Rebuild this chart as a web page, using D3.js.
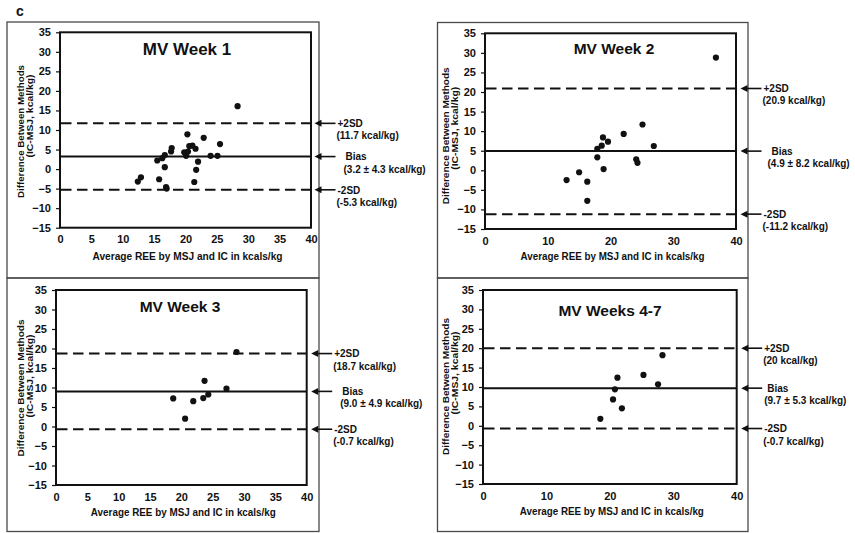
<!DOCTYPE html>
<html><head><meta charset="utf-8">
<script src="https://cdn.jsdelivr.net/npm/d3@7"></script>
<style>
html,body{margin:0;padding:0;background:#fff;}
svg{display:block;font-family:"Liberation Sans",Arial,sans-serif;font-weight:bold;}
</style></head>
<body><svg id="c" width="855" height="533"></svg>
<script>
// ---- data ----
const panelTitles = ["MV Week 1", "MV Week 2", "MV Week 3", "MV Weeks 4-7"];
const xTicks1 = [0,5,10,15,20,25,30,35,40];
const xTicks2 = [0,10,20,30,40];
const yTicks = [-15,-10,-5,0,5,10,15,20,25,30,35];

const wk1X = [12.4,12.9,15.5,15.8,16.3,16.7,16.7,16.9,17.0,17.7,17.8,19.8,20.1,20.3,20.4,20.6,21.1,21.6,22.0,21.7,21.4,22.9,24.0,25.1,25.5,28.3];
const wk1Y = [-3.2,-2.1,2.2,-2.6,2.8,3.6,0.5,-4.6,-5.0,4.5,5.4,4.3,3.4,8.9,4.5,5.9,6.0,5.2,1.9,-0.2,-3.3,8.0,3.4,3.4,6.4,16.1];
const wk2X = [13.0,15.0,16.3,16.3,17.9,17.9,18.6,18.8,18.9,19.6,22.1,25.1,24.1,24.3,26.9,36.8];
const wk2Y = [-2.5,-0.5,-2.9,-7.8,3.3,5.5,6.3,8.4,0.3,7.3,9.3,11.7,2.8,1.9,6.2,28.8];
const wk3X = [18.7,20.6,21.9,23.5,23.7,24.3,27.2,28.8];
const wk3Y = [7.2,2.0,6.5,7.3,11.7,8.2,9.7,19.1];
const wk47X = [18.5,20.5,20.8,21.2,21.9,25.3,27.6,28.3];
const wk47Y = [1.8,6.8,9.4,12.4,4.5,13.1,10.7,18.2];

const upperSD = [11.7, 20.9, 18.7, 20];
const biasVal = [3.2, 4.9, 9.0, 9.7];
const lowerSD = [-5.3, -11.2, -0.7, -0.7];
const upperText = ["(11.7 kcal/kg)", "(20.9 kcal/kg)", "(18.7 kcal/kg)", "(20 kcal/kg)"];
const biasText = ["(3.2 \u00B1 4.3 kcal/kg)", "(4.9 \u00B1 8.2 kcal/kg)", "(9.0 \u00B1 4.9 kcal/kg)", "(9.7 \u00B1 5.3 kcal/kg)"];
const lowerText = ["(-5.3 kcal/kg)", "(-11.2 kcal/kg)", "(-0.7 kcal/kg)", "(-0.7 kcal/kg)"];
const yTitle1 = "Difference Between Methods";
const yTitle2 = "(IC-MSJ, kcal/kg)";
const xTitle = "Average REE by MSJ and IC in kcals/kg";

// ---- layout ----
const layouts = [
  {box:[7,22,319,278], xr:[60,311], yr:[227.7,32.3], xt:xTicks1, title:[187,55,17], yl:[24,131.5,32.5,116], xtY:260, xtW:190, biasDxA:8, biasDxB:7},
  {box:[437.5,22.5,748,278], xr:[485,736], yr:[229,33.3], xt:xTicks2, title:[614,54,15.5], yl:[449,135.8,457.5,128.3], xtY:260, xtW:184, biasDxA:8, biasDxB:5},
  {box:[7,278,319,531.5], xr:[56,306.7], yr:[485,290], xt:xTicks1, title:[180,312,15.5], yl:[24,388,32.5,376], xtY:515.5, xtW:185, biasDxA:8, biasDxB:7},
  {box:[437.5,278,748,531.5], xr:[483,736.7], yr:[484,290], xt:xTicks2, title:[610,316,15.5], yl:[449,386.5,457.5,373], xtY:515, xtW:184, biasDxA:3, biasDxB:1}
];
const xsData = [wk1X, wk2X, wk3X, wk47X];
const ysData = [wk1Y, wk2Y, wk3Y, wk47Y];

const svg = d3.select("#c");
const ink = "#111";

svg.append("text").attr("x",16).attr("y",15.5).attr("font-size",14).attr("fill",ink).text("c");

layouts.forEach((L, i) => {
  const g = svg.append("g");
  // outer box
  g.append("rect").attr("x",L.box[0]).attr("y",L.box[1])
    .attr("width",L.box[2]-L.box[0]).attr("height",L.box[3]-L.box[1])
    .attr("fill","none").attr("stroke","#4a4a4a").attr("stroke-width",1.3);

  const x = d3.scaleLinear().domain([0,40]).range(L.xr);
  const y = d3.scaleLinear().domain([-15,35]).range(L.yr);

  // y axis
  const ya = g.append("g").attr("transform",`translate(${L.xr[0]},0)`)
    .call(d3.axisLeft(y).tickValues(yTicks).tickSize(4).tickPadding(5));
  ya.select(".domain").remove();
  ya.selectAll("line").attr("stroke",ink).attr("stroke-width",1.2);
  ya.selectAll("text").attr("font-size",11).attr("font-family","Liberation Sans, Arial, sans-serif")
    .attr("font-weight","bold").attr("fill",ink);

  // x axis
  const xa = g.append("g").attr("transform",`translate(0,${L.yr[0]})`)
    .call(d3.axisBottom(x).tickValues(L.xt).tickSize(0).tickPadding(8));
  xa.select(".domain").remove();
  xa.selectAll("text").attr("font-size",11).attr("font-family","Liberation Sans, Arial, sans-serif")
    .attr("font-weight","bold").attr("fill",ink);

  // frame
  g.append("rect").attr("x",x(0)).attr("y",y(35)).attr("width",x(40)-x(0)).attr("height",y(-15)-y(35))
    .attr("fill","none").attr("stroke",ink).attr("stroke-width",2);

  // reference lines
  [upperSD[i], lowerSD[i]].forEach(v => {
    g.append("line").attr("x1",x(0)+1).attr("x2",x(40)).attr("y1",y(v)).attr("y2",y(v))
      .attr("stroke",ink).attr("stroke-width",2).attr("stroke-dasharray","10.5,5.5");
  });
  g.append("line").attr("x1",x(0)).attr("x2",x(40)).attr("y1",y(biasVal[i])).attr("y2",y(biasVal[i]))
    .attr("stroke",ink).attr("stroke-width",2);

  // points
  g.selectAll("circle.pt").data(xsData[i].map((d,k)=>[d, ysData[i][k]])).enter()
    .append("circle").attr("cx",d=>x(d[0])).attr("cy",d=>y(d[1])).attr("r",3.1).attr("fill",ink);

  // title
  g.append("text").attr("x",L.title[0]).attr("y",L.title[1]).attr("text-anchor","middle")
    .attr("font-size",L.title[2]).attr("fill",ink).text(panelTitles[i]);

  // y title (two rotated lines)
  g.append("text").attr("transform",`translate(${L.yl[0]},${L.yl[1]}) rotate(-90)`)
    .attr("text-anchor","middle").attr("font-size",9.3).attr("fill",ink)
    .attr("textLength", i===0?133:137).attr("lengthAdjust","spacingAndGlyphs").text(yTitle1);
  g.append("text").attr("transform",`translate(${L.yl[2]},${L.yl[3]}) rotate(-90)`)
    .attr("text-anchor","middle").attr("font-size",9.3).attr("fill",ink)
    .attr("textLength",83).attr("lengthAdjust","spacingAndGlyphs").text(yTitle2);

  // x title
  g.append("text").attr("x",(L.xr[0]+L.xr[1])/2 + 2).attr("y",L.xtY).attr("text-anchor","middle")
    .attr("font-size",10.5).attr("fill",ink)
    .attr("textLength",L.xtW).attr("lengthAdjust","spacingAndGlyphs").text(xTitle);

  // annotations with arrows
  const tip = (i===0) ? 314.5 : L.xr[1] + 4.5;
  const ann = [
    {v:upperSD[i], a:"+2SD", b:upperText[i], da:0, db:0},
    {v:biasVal[i], a:"Bias", b:biasText[i], da:L.biasDxA, db:L.biasDxB},
    {v:lowerSD[i], a:"-2SD", b:lowerText[i], da:0, db:0}
  ];
  ann.forEach(o => {
    const yy = y(o.v);
    g.append("path").attr("d",`M${tip},${yy}L${tip+7},${yy-3.5}L${tip+7},${yy+3.5}Z`).attr("fill",ink);
    g.append("line").attr("x1",tip+6).attr("x2",tip+21).attr("y1",yy).attr("y2",yy)
      .attr("stroke",ink).attr("stroke-width",1.6);
    g.append("text").attr("x",tip+23+o.da).attr("y",yy+3.8).attr("font-size",10).attr("fill",ink).text(o.a);
    g.append("text").attr("x",tip+22+o.db).attr("y",yy+16).attr("font-size",10).attr("fill",ink).text(o.b);
  });
});
</script></body></html>
